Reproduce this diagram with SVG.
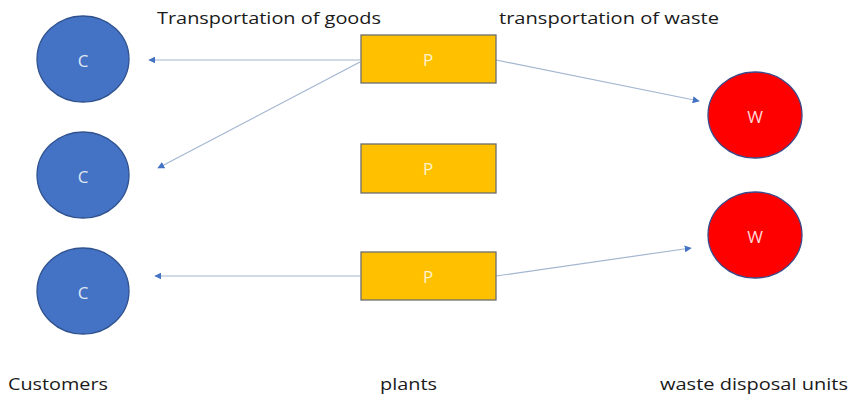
<svg xmlns="http://www.w3.org/2000/svg" width="856" height="400" viewBox="0 0 856 400">
<style>
.cust{fill:#4472c4;stroke:#2f528f;stroke-width:1.3}
.plant{fill:#ffc000;stroke:#6d6d6d;stroke-width:1.3}
.waste{fill:#ff0000;stroke:#3b4a8a;stroke-width:1.3}
.in{font-family:"Open Sans","Liberation Sans",sans-serif;font-size:17px;text-anchor:middle;dominant-baseline:central}
.lbl{font-family:"Open Sans","Liberation Sans",sans-serif;font-size:17px;fill:#1a1a1a}
.edge{stroke:#a3b6d0;stroke-width:1.2;fill:none;marker-end:url(#ah)}
</style>
<defs>
<marker id="ah" viewBox="0 0 10 10" refX="9" refY="5" markerWidth="7" markerHeight="7" orient="auto" markerUnits="userSpaceOnUse">
<path d="M0,0 L10,5 L0,10 Z" fill="#4472c4"/>
</marker>
</defs>
<rect width="856" height="400" fill="#ffffff"/>
<g id="connectors">
<line class="edge" x1="360" y1="60" x2="149" y2="60"/>
<line class="edge" x1="360" y1="62" x2="158" y2="168"/>
<line class="edge" x1="360" y1="276" x2="155" y2="276"/>
<line class="edge" x1="496" y1="60" x2="699" y2="101"/>
<line class="edge" x1="496" y1="276" x2="691" y2="248"/>
</g>
<g id="c1"><ellipse class="cust" cx="83" cy="59" rx="46" ry="43"/><text class="in" x="83" y="60" fill="#dfe7f5">C</text></g>
<g id="c2"><ellipse class="cust" cx="83" cy="175" rx="46" ry="43"/><text class="in" x="83" y="176" fill="#dfe7f5">C</text></g>
<g id="c3"><ellipse class="cust" cx="83" cy="291" rx="46" ry="43"/><text class="in" x="83" y="292" fill="#dfe7f5">C</text></g>
<g id="p1"><rect class="plant" x="361" y="35" width="135" height="48"/><text class="in" x="428" y="59" fill="#fff2cc">P</text></g>
<g id="p2"><rect class="plant" x="361" y="144" width="135" height="49"/><text class="in" x="428" y="168" fill="#fff2cc">P</text></g>
<g id="p3"><rect class="plant" x="361" y="252" width="135" height="48"/><text class="in" x="428" y="276" fill="#fff2cc">P</text></g>
<g id="w1"><ellipse class="waste" cx="755" cy="115" rx="47" ry="43"/><text class="in" x="755" y="116" fill="#ffd9d9">W</text></g>
<g id="w2"><ellipse class="waste" cx="755" cy="235" rx="47" ry="43"/><text class="in" x="755" y="236" fill="#ffd9d9">W</text></g>
<g id="labels">
<text class="lbl" x="157" y="24" textLength="224" lengthAdjust="spacingAndGlyphs">Transportation of goods</text>
<text class="lbl" x="499" y="24" textLength="220" lengthAdjust="spacingAndGlyphs">transportation of waste</text>
<text class="lbl" x="8" y="390" textLength="100" lengthAdjust="spacingAndGlyphs">Customers</text>
<text class="lbl" x="380" y="390" textLength="57" lengthAdjust="spacingAndGlyphs">plants</text>
<text class="lbl" x="660" y="390" textLength="188" lengthAdjust="spacingAndGlyphs">waste disposal units</text>
</g>
</svg>
